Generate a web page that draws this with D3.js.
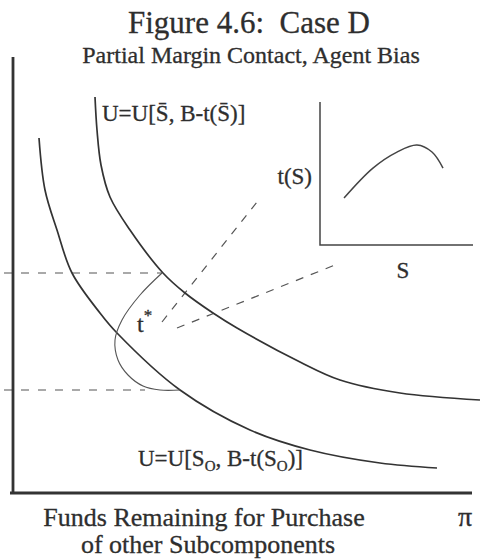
<!DOCTYPE html>
<html>
<head>
<meta charset="utf-8">
<script src="https://cdn.jsdelivr.net/npm/d3@7"></script>
<style>
  body { margin: 0; background: #fff; }
  text { font-family: "Liberation Serif", "Times New Roman", serif; fill: #2e2e2e; stroke: #2e2e2e; stroke-width: 0.3px; }
</style>
</head>
<body>
<svg id="chart"></svg>
<script>
// main diagram curves, in axis units (origin at the axes corner)
var outerCurve = [[82,396],[84,363],[88,328],[97,296],[117,263],[150,220],[172,200],[200,180],[224,165],[287,131],[327,113],[387,100],[467,93]];
var innerCurve = [[26,355],[32,303],[44,263],[59,220],[87,180],[104,160],[167,103],[237,63],[297,43],[367,30],[424,25]];
// t* bracket joining the two reference levels
var bracketCurve = [[149,220],[127,198],[109,173],[102,153],[105,133],[115,118],[130,107],[147,103],[167,103]];
// dashed reference levels on the vertical axis
var refLevels = [{ y: 220, x0: -9, x1: 149 }, { y: 103, x0: -9, x1: 132 }];
// dashed rays from t* to the inset
var rays = [[[149,171],[244,291]], [[164,165],[327,230]]];
// inset t(S) curve, in inset units 0..1
var insetCurve = [[0.157,0.329],[0.346,0.538],[0.503,0.650],[0.634,0.699],[0.732,0.650],[0.804,0.538]];

var width = 484, height = 559;
var svg = d3.select("#chart").attr("width", width).attr("height", height);

var x = d3.scaleLinear().domain([0, 460]).range([13, 473]);
var y = d3.scaleLinear().domain([0, 436]).range([493, 57]);

var ix = d3.scaleLinear().domain([0, 1]).range([320, 473]);
var iy = d3.scaleLinear().domain([0, 1]).range([245, 102]);

var line = d3.line()
  .x(function(d) { return x(d[0]); })
  .y(function(d) { return y(d[1]); })
  .curve(d3.curveCatmullRom.alpha(0.5));

var insetLine = d3.line()
  .x(function(d) { return ix(d[0]); })
  .y(function(d) { return iy(d[1]); })
  .curve(d3.curveCatmullRom.alpha(0.5));

// dashed reference levels
svg.selectAll(".ref")
  .data(refLevels)
  .enter()
  .append("line")
  .attr("x1", function(d) { return x(d.x0); })
  .attr("x2", function(d) { return x(d.x1); })
  .attr("y1", function(d) { return y(d.y); })
  .attr("y2", function(d) { return y(d.y); })
  .attr("stroke", "#555")
  .attr("stroke-width", 1.2)
  .attr("stroke-dasharray", "8,9");

// rays
svg.selectAll(".ray")
  .data(rays)
  .enter()
  .append("line")
  .attr("x1", function(d) { return x(d[0][0]); })
  .attr("y1", function(d) { return y(d[0][1]); })
  .attr("x2", function(d) { return x(d[1][0]); })
  .attr("y2", function(d) { return y(d[1][1]); })
  .attr("stroke", "#555")
  .attr("stroke-width", 1.2)
  .attr("stroke-dasharray", "8,8");

// indifference curves
[outerCurve, innerCurve].forEach(function(c) {
  svg.append("path")
    .attr("d", line(c))
    .attr("fill", "none")
    .attr("stroke", "#333")
    .attr("stroke-width", 1.7);
});

svg.append("path")
  .attr("d", line(bracketCurve))
  .attr("fill", "none")
  .attr("stroke", "#555")
  .attr("stroke-width", 1.1);

// main axes
svg.append("line")
  .attr("x1", x(0)).attr("x2", x(0))
  .attr("y1", y(436)).attr("y2", y(0) + 1)
  .attr("stroke", "#333").attr("stroke-width", 2.8);
svg.append("line")
  .attr("x1", x(-3)).attr("x2", x(459))
  .attr("y1", y(0)).attr("y2", y(0))
  .attr("stroke", "#333").attr("stroke-width", 2.8);

// inset axes and curve
svg.append("path")
  .attr("d", "M" + ix(0) + "," + iy(1) + "V" + iy(0) + "H" + ix(1))
  .attr("fill", "none")
  .attr("stroke", "#444")
  .attr("stroke-width", 1.5);
svg.append("path")
  .attr("d", insetLine(insetCurve))
  .attr("fill", "none")
  .attr("stroke", "#444")
  .attr("stroke-width", 1.5);

// titles
svg.append("text")
  .attr("x", 249).attr("y", 33)
  .attr("text-anchor", "middle")
  .style("font-size", "31px")
  .text("Figure 4.6:\u00a0 Case D");
svg.append("text")
  .attr("x", 251).attr("y", 63)
  .attr("text-anchor", "middle")
  .style("font-size", "24px")
  .text("Partial Margin Contact, Agent Bias");

// curve labels
svg.append("text")
  .attr("x", 102).attr("y", 121)
  .style("font-size", "23px")
  .text("U=U[S\u0304, B-t(S\u0304)]");

var lo = svg.append("text")
  .attr("x", 138).attr("y", 466)
  .style("font-size", "23px");
lo.append("tspan").text("U=U[S");
lo.append("tspan").attr("dy", 5).style("font-size", "15px").text("O");
lo.append("tspan").attr("dy", -5).text(", B-t(S");
lo.append("tspan").attr("dy", 5).style("font-size", "15px").text("O");
lo.append("tspan").attr("dy", -5).text(")]");

var ts = svg.append("text")
  .attr("x", 137).attr("y", 332)
  .style("font-size", "24px");
ts.append("tspan").text("t");
ts.append("tspan").attr("dy", -11).style("font-size", "17px").text("*");

// inset labels
svg.append("text")
  .attr("x", 312).attr("y", 184)
  .attr("text-anchor", "end")
  .style("font-size", "23px")
  .text("t(S)");
svg.append("text")
  .attr("x", 403).attr("y", 278)
  .attr("text-anchor", "middle")
  .style("font-size", "23px")
  .text("S");

// axis labels
svg.append("text")
  .attr("x", 204).attr("y", 526)
  .attr("text-anchor", "middle")
  .style("font-size", "26px")
  .text("Funds Remaining for Purchase");
svg.append("text")
  .attr("x", 208).attr("y", 553)
  .attr("text-anchor", "middle")
  .style("font-size", "26px")
  .text("of other Subcomponents");
svg.append("text")
  .attr("x", 465).attr("y", 526)
  .attr("text-anchor", "middle")
  .style("font-size", "28px")
  .text("\u03c0");
</script>
</body>
</html>
